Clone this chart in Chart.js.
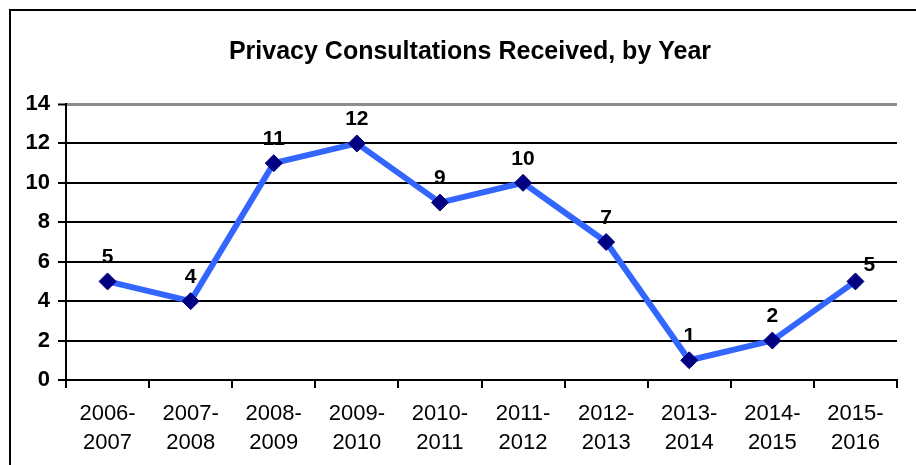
<!DOCTYPE html>
<html>
<head>
<meta charset="utf-8">
<script src="https://cdn.jsdelivr.net/npm/chart.js@4"></script>
<style>
  html, body { margin: 0; padding: 0; background: #fff; }
  #wrap { position: relative; width: 916px; height: 465px; overflow: hidden; }
  #frame { position: absolute; left: 9px; top: 9px; width: 1000px; height: 1000px;
           border-left: 2px solid #000; border-top: 2px solid #000; }
  canvas { position: absolute; left: 0; top: 0; }
</style>
</head>
<body>
<div id="wrap">
  <div id="frame"></div>
  <canvas id="myChart" width="916" height="465"></canvas>
</div>
<script>
const years = [['2006-','2007'],['2007-','2008'],['2008-','2009'],['2009-','2010'],['2010-','2011'],
               ['2011-','2012'],['2012-','2013'],['2013-','2014'],['2014-','2015'],['2015-','2016']];
const consultations = [5, 4, 11, 12, 9, 10, 7, 1, 2, 5];
const yTicks = [0, 2, 4, 6, 8, 10, 12, 14];
const chartTitle = 'Privacy Consultations Received, by Year';

const fontFam = '"Liberation Sans", Arial, sans-serif';

// title (centred a bit right of the canvas middle, like the original)
const titleText = {
  id: 'titleText',
  afterDraw(chart) {
    const c = chart.ctx;
    c.save();
    c.font = 'bold 25px ' + fontFam;
    c.fillStyle = '#000';
    c.textAlign = 'center';
    c.textBaseline = 'middle';
    c.fillText(chartTitle, 470, 52);
    c.restore();
  }
};

// value labels above each marker
const valueLabels = {
  id: 'valueLabels',
  afterDatasetsDraw(chart) {
    const c = chart.ctx;
    const meta = chart.getDatasetMeta(0);
    const last = meta.data.length - 1;
    c.save();
    c.font = 'bold 21px ' + fontFam;
    c.fillStyle = '#000';
    c.textAlign = 'center';
    c.textBaseline = 'middle';
    meta.data.forEach((pt, i) => {
      // last label sits up-right of its marker in the original
      const dx = i === last ? 14 : 0;
      const dy = i === last ? 16 : 24;
      c.fillText(String(consultations[i]), pt.x + dx, pt.y - dy);
    });
    c.restore();
  }
};

const ctx = document.getElementById('myChart');

new Chart(ctx, {
  type: 'line',
  data: {
    labels: years,
    datasets: [{
      label: 'Consultations',
      data: consultations,
      borderColor: '#3366FF',
      borderWidth: 6,
      tension: 0,
      pointStyle: 'rectRot',
      pointRadius: 8.5,
      pointHoverRadius: 8.5,
      pointBackgroundColor: '#000080',
      pointBorderColor: '#000080',
      pointBorderWidth: 1
    }]
  },
  plugins: [valueLabels, titleText],
  options: {
    responsive: false,
    animation: false,
    layout: { padding: { left: 10, right: 19, top: 104, bottom: 0 } },
    plugins: {
      legend: { display: false },
      tooltip: { enabled: false },
      title: { display: false }
    },
    scales: {
      x: {
        offset: true,
        afterFit(scale) { scale.height = 85; },
        grid: {
          offset: true,
          drawOnChartArea: true,
          color: c => c.index === years.length ? '#8c8c8c' : 'rgba(0,0,0,0)',
          lineWidth: c => c.index === years.length ? 3 : 2,
          tickColor: '#000',
          tickWidth: 2,
          tickLength: 8
        },
        border: { display: true, color: '#000', width: 2 },
        ticks: {
          color: '#000',
          padding: 12,
          maxRotation: 0,
          autoSkip: false,
          font: { family: fontFam, size: 22, lineHeight: 1.3 }
        }
      },
      y: {
        min: yTicks[0],
        max: yTicks[yTicks.length - 1],
        afterFit(scale) { scale.width = 56; },
        afterBuildTicks(scale) { scale.ticks = yTicks.map(v => ({ value: v })); },
        grid: {
          color: c => c.tick && c.tick.value === 14 ? '#8c8c8c' : '#000',
          lineWidth: c => c.tick && c.tick.value === 14 ? 3 : 2,
          tickColor: '#000',
          tickWidth: 2,
          tickLength: 8
        },
        border: { display: true, color: '#000', width: 2 },
        ticks: {
          color: '#000',
          padding: 8,
          font: { family: fontFam, size: 22, weight: 'bold' }
        }
      }
    }
  }
});
</script>
</body>
</html>
